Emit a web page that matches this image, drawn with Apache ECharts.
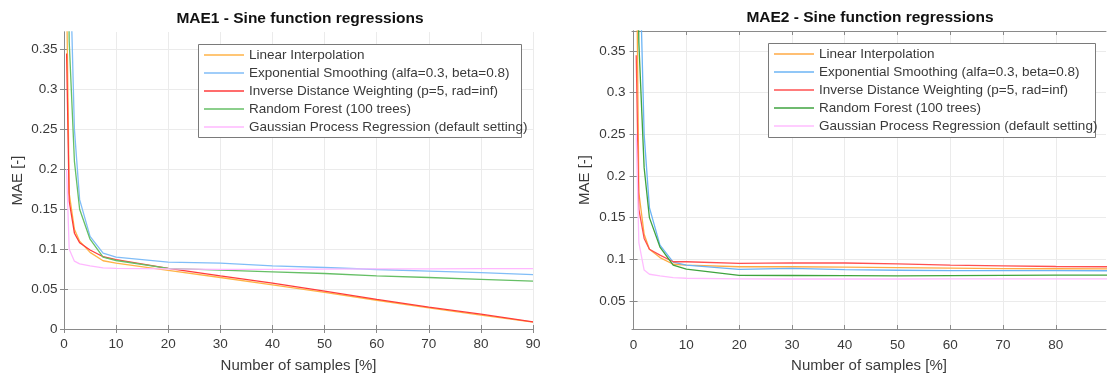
<!DOCTYPE html>
<html>
<head>
<meta charset="utf-8">
<script src="https://cdn.jsdelivr.net/npm/echarts@6/dist/echarts.min.js"></script>
<style>
html,body{margin:0;padding:0;background:#fff;}
#chart{width:1107px;height:378px;}
</style>
</head>
<body>
<div id="chart"></div>
<script>
// ---- data ----
const xSamples = [0.5, 1, 2, 3, 5, 7.5, 10, 20, 30, 40, 50, 60, 70, 80, 90];
const seriesNames = [
  'Linear Interpolation',
  'Exponential Smoothing (alfa=0.3, beta=0.8)',
  'Inverse Distance Weighting (p=5, rad=inf)',
  'Random Forest (100 trees)',
  'Gaussian Process Regression (default setting)'
];
// MAE1
const lin1 = [0.42, 0.17, 0.125, 0.11, 0.096, 0.0855, 0.0825, 0.0733, 0.0645, 0.0554, 0.046, 0.036, 0.0265, 0.0175, 0.0085];
const exp1 = [0.9, 0.5, 0.25, 0.162, 0.116, 0.095, 0.09, 0.0837, 0.0825, 0.079, 0.077, 0.0745, 0.0725, 0.0705, 0.068];
const idw1 = [0.345, 0.16, 0.12, 0.108, 0.099, 0.0905, 0.087, 0.076, 0.0666, 0.0575, 0.0475, 0.037, 0.0275, 0.0185, 0.0088];
const rf1  = [0.6, 0.36, 0.21, 0.15, 0.1125, 0.09, 0.0858, 0.076, 0.0737, 0.0716, 0.0695, 0.0665, 0.0645, 0.0622, 0.060];
const gpr1 = [0.2, 0.1, 0.085, 0.0815, 0.079, 0.0765, 0.076, 0.0752, 0.0747, 0.0747, 0.0750, 0.0752, 0.0754, 0.0756, 0.0757];
// MAE2
const lin2 = [0.5, 0.18, 0.13, 0.112, 0.102, 0.094, 0.093, 0.091, 0.091, 0.0905, 0.090, 0.0894, 0.0888, 0.0886, 0.0885];
const exp2 = [0.9, 0.5, 0.25, 0.162, 0.117, 0.0965, 0.093, 0.0878, 0.089, 0.0875, 0.0868, 0.0863, 0.0863, 0.0863, 0.0862];
const idw2 = [0.345, 0.16, 0.125, 0.112, 0.105, 0.097, 0.097, 0.095, 0.0957, 0.0955, 0.0945, 0.093, 0.092, 0.0913, 0.091];
const rf2  = [0.6, 0.36, 0.21, 0.15, 0.1147, 0.093, 0.0882, 0.0807, 0.0805, 0.0803, 0.080, 0.0803, 0.0806, 0.081, 0.081];
const gpr2 = [0.25, 0.12, 0.087, 0.082, 0.080, 0.078, 0.0772, 0.0764, 0.0763, 0.0763, 0.0763, 0.0764, 0.0764, 0.0764, 0.0764];
// tick labels
const xTicks1 = [0, 10, 20, 30, 40, 50, 60, 70, 80, 90];
const xTicks2 = [0, 10, 20, 30, 40, 50, 60, 70, 80];
const yTicks1 = [0, 0.05, 0.1, 0.15, 0.2, 0.25, 0.3, 0.35];
const yTicks2 = [0.05, 0.1, 0.15, 0.2, 0.25, 0.3, 0.35];
const titles = ['MAE1 - Sine function regressions', 'MAE2 - Sine function regressions'];
const xName = 'Number of samples [%]';
const yName = 'MAE [-]';

// ---- styles ----
const FONT = 'Liberation Sans, Arial, Helvetica, sans-serif';
const colors1 = ['#FFB347', '#80BDF7', '#FF3B3B', '#66BF66', '#FFB8FF'];
const colors2 = ['#FFAA44', '#6CB4F5', '#FF5050', '#3FA33F', '#FFBDFF'];
const axisGray = '#8a8a8a';
const gridGray = '#ebebeb';
const textGray = '#3a3a3a';

function pairs(ys) { return xSamples.map((x, i) => [x, ys[i]]); }

const grids = [
  { left: 64, top: 32, width: 469, height: 297 },
  { left: 632, top: 31, width: 474, height: 301 }
];
const xr = [[0, 90], [-0.3, 89.5]];
const yr = [[0, 0.372], [0.0163, 0.374]];
const xt = [xTicks1, xTicks2];
const yt = [yTicks1, yTicks2];
const xNameGap = [29, 29];
const yNameGap = [39, 40];
const xLabelMargin = [8.5, 9.5];

const xAxes = [], yAxes = [];
[0, 1].forEach(g => {
  const base = {
    gridIndex: g, type: 'value', min: xr[g][0], max: xr[g][1],
    axisLine: { show: true, lineStyle: { color: axisGray, width: 1 } },
    axisTick: { show: true, inside: true, length: 4, customValues: xt[g], lineStyle: { color: axisGray } },
  };
  xAxes.push(Object.assign({}, base, {
    position: 'bottom',
    name: xName, nameLocation: 'middle', nameGap: xNameGap[g],
    nameTextStyle: { fontFamily: FONT, fontSize: 15, color: textGray },
    axisLabel: { customValues: xt[g], fontFamily: FONT, fontSize: 13.5, color: textGray, margin: xLabelMargin[g] },
    splitLine: { show: true, lineStyle: { color: gridGray, width: 1 } }
  }));
  xAxes.push(Object.assign({}, base, {
    position: 'top', axisLabel: { show: false }, splitLine: { show: false }
  }));
  const ybase = {
    gridIndex: g, type: 'value', min: yr[g][0], max: yr[g][1],
    axisLine: { show: true, lineStyle: { color: axisGray, width: 1 } },
    axisTick: { show: true, inside: true, length: 4, customValues: yt[g], lineStyle: { color: axisGray } },
  };
  yAxes.push(Object.assign({}, ybase, {
    position: 'left',
    name: yName, nameLocation: 'middle', nameGap: yNameGap[g],
    nameTextStyle: { fontFamily: FONT, fontSize: 15, color: textGray },
    axisLabel: { customValues: yt[g], fontFamily: FONT, fontSize: 13.5, color: textGray, margin: 6.5 },
    splitLine: { show: true, lineStyle: { color: gridGray, width: 1 } }
  }));
  yAxes.push(Object.assign({}, ybase, {
    position: 'right', axisLabel: { show: false }, splitLine: { show: false }
  }));
});

const dataSets = [[lin1, exp1, idw1, rf1, gpr1], [lin2, exp2, idw2, rf2, gpr2]];
const palettes = [colors1, colors2];
const series = [];
[0, 1].forEach(g => {
  dataSets[g].forEach((ys, i) => {
    series.push({
      name: seriesNames[i], type: 'line',
      xAxisIndex: g * 2, yAxisIndex: g * 2,
      data: pairs(ys), showSymbol: false, symbol: 'none', clip: true,
      lineStyle: { color: palettes[g][i], width: 1.3 },
      itemStyle: { color: palettes[g][i] },
      silent: true, animation: false, z: 2
    });
  });
});

// legend boxes (MATLAB draws the frame a bit narrower than the text)
const legendBox = [
  { x: 198, y: 44, w: 323, h: 93 },
  { x: 768, y: 43, w: 327, h: 94 }
];
const legendPos = [{ left: 199, top: 46 }, { left: 769, top: 45 }];
const legends = [0, 1].map(g => Object.assign({
  orient: 'vertical',
  data: seriesNames.map((n, i) => ({ name: n, itemStyle: { color: palettes[g][i] } })),
  icon: 'rect', itemWidth: 40, itemHeight: 1.5, itemGap: 0,
  padding: [0, 0, 0, 5],
  borderWidth: 0,
  textStyle: { fontFamily: FONT, fontSize: 13.5, color: textGray, lineHeight: 18 },
  selectedMode: false, z: 5
}, legendPos[g]));

const graphics = legendBox.map(b => ({
  type: 'rect', z: 4,
  shape: { x: b.x + 0.5, y: b.y + 0.5, width: b.w, height: b.h },
  style: { fill: '#ffffff', stroke: '#7a7a7a', lineWidth: 1 },
  silent: true
}));

const option = {
  animation: false,
  title: [
    { text: titles[0], left: 300, top: 11, textAlign: 'center', padding: 0,
      textStyle: { fontFamily: FONT, fontSize: 15.5, fontWeight: 'bold', color: '#111' } },
    { text: titles[1], left: 870, top: 9.5, textAlign: 'center', padding: 0,
      textStyle: { fontFamily: FONT, fontSize: 15.5, fontWeight: 'bold', color: '#111' } }
  ],
  grid: grids,
  xAxis: xAxes,
  yAxis: yAxes,
  legend: legends,
  graphic: graphics,
  series: series
};

const chart = echarts.init(document.getElementById('chart'), null, { renderer: 'canvas' });
chart.setOption(option);
</script>
</body>
</html>
